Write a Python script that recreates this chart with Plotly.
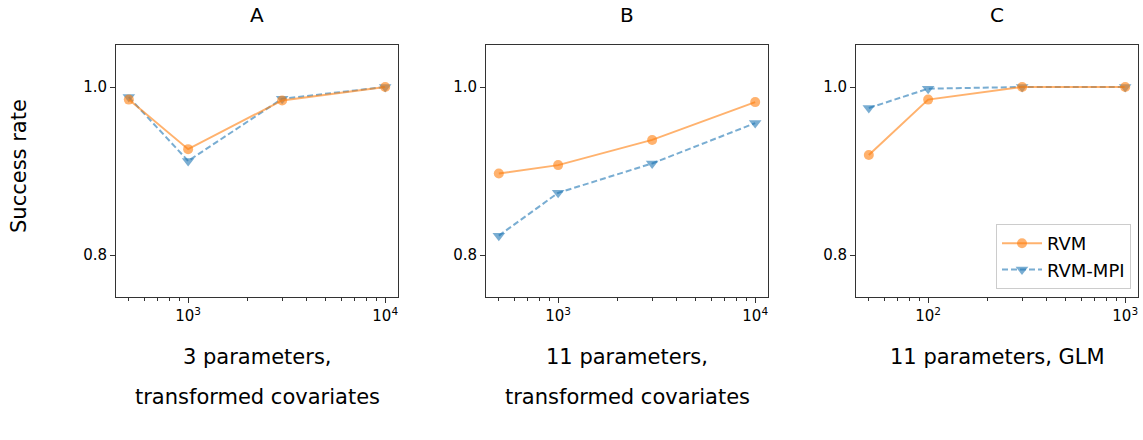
import numpy as np
import plotly.graph_objects as go

# ---- data ----
panel_titles = ["A", "B", "C"]
panel_captions = [["3 parameters,", "transformed covariates"],
                  ["11 parameters,", "transformed covariates"],
                  ["11 parameters, GLM"]]

x_A = [500, 1000, 3000, 10000]
rvm_A = [0.985, 0.926, 0.984, 1.000]
mpi_A = [0.988, 0.912, 0.986, 1.000]

x_B = [500, 1000, 3000, 10000]
rvm_B = [0.897, 0.907, 0.937, 0.982]
mpi_B = [0.823, 0.874, 0.909, 0.957]

x_C = [50, 100, 300, 1000]
rvm_C = [0.919, 0.985, 1.000, 1.000]
mpi_C = [0.975, 0.998, 1.000, 1.000]

xtick_vals = [[1000, 10000], [1000, 10000], [100, 1000]]
xtick_text = [["10<sup>3</sup>", "10<sup>4</sup>"], ["10<sup>3</sup>", "10<sup>4</sup>"],
              ["10<sup>2</sup>", "10<sup>3</sup>"]]
ytick_vals = [0.8, 1.0]
ytick_text = ["0.8", "1.0"]
y_label = "Success rate"
series_names = ["RVM", "RVM-MPI"]

# ---- figure ----
W, H = 1143, 440
ORANGE = "rgba(255,127,14,0.6)"
BLUE = "rgba(31,119,180,0.6)"
FONT = "DejaVu Sans"

panels = [(x_A, rvm_A, mpi_A), (x_B, rvm_B, mpi_B), (x_C, rvm_C, mpi_C)]
x_left = [116, 486, 856]
pw = 282
y_top, y_bot = 45, 297

fig = go.Figure()
layout = dict(width=W, height=H, margin=dict(l=0, r=0, t=0, b=0),
              plot_bgcolor="white", paper_bgcolor="white",
              font=dict(family=FONT, color="black"))
annotations = []

for i, (xs, rvm, mpi) in enumerate(panels):
    xa = "x" if i == 0 else f"x{i+1}"
    ya = "y" if i == 0 else f"y{i+1}"
    show = (i == 2)
    fig.add_trace(go.Scatter(x=xs, y=mpi, mode="lines+markers", name=series_names[1],
                             xaxis=xa, yaxis=ya, showlegend=show, legendrank=2,
                             line=dict(color=BLUE, width=2, dash="6px,3px"),
                             marker=dict(symbol="triangle-down", size=11, color=BLUE)))
    fig.add_trace(go.Scatter(x=xs, y=rvm, mode="lines+markers", name=series_names[0],
                             xaxis=xa, yaxis=ya, showlegend=show, legendrank=1,
                             line=dict(color=ORANGE, width=2),
                             marker=dict(symbol="circle", size=10, color=ORANGE)))
    lo, hi = np.log10(min(xs)), np.log10(max(xs))
    pad = 0.05 * (hi - lo)
    dec_lo = int(np.floor(lo - pad))
    dec_hi = int(np.ceil(hi + pad))
    minors = [m * 10 ** d for d in range(dec_lo, dec_hi + 1) for m in range(2, 10)
              if lo - pad <= np.log10(m * 10 ** d) <= hi + pad]
    d0 = x_left[i] / W
    d1 = (x_left[i] + pw) / W
    kx = "xaxis" if i == 0 else f"xaxis{i+1}"
    ky = "yaxis" if i == 0 else f"yaxis{i+1}"
    layout[kx] = dict(type="log", domain=[d0, d1], anchor=ya,
                      range=[lo - pad, hi + pad],
                      tickmode="array", tickvals=xtick_vals[i], ticktext=xtick_text[i],
                      ticks="outside", ticklen=5, tickwidth=1, tickcolor="#333",
                      showline=True, linecolor="#333", linewidth=1, mirror=True,
                      showgrid=False, zeroline=False,
                      tickfont=dict(size=15, family=FONT),
                      minor=dict(tickmode="array", tickvals=minors, ticks="outside",
                                 ticklen=3, tickwidth=1, tickcolor="#333", showgrid=False))
    layout[ky] = dict(domain=[1 - y_bot / H, 1 - y_top / H], anchor=xa,
                      range=[0.75, 1.05],
                      tickmode="array", tickvals=ytick_vals, ticktext=ytick_text,
                      ticks="outside", ticklen=5, tickwidth=1, tickcolor="#333",
                      showline=True, linecolor="#333", linewidth=1, mirror=True,
                      showgrid=False, zeroline=False,
                      tickfont=dict(size=15, family=FONT))
    cx = (x_left[i] + pw / 2) / W
    annotations.append(dict(text=panel_titles[i], x=cx, y=1 - 15 / H, xref="paper", yref="paper",
                            showarrow=False, font=dict(size=20, family=FONT),
                            xanchor="center", yanchor="middle"))
    caps = panel_captions[i]
    for j, line in enumerate(caps):
        annotations.append(dict(text=line, x=cx, y=1 - (357 + 40 * j) / H,
                                xref="paper", yref="paper", showarrow=False,
                                font=dict(size=21, family=FONT),
                                xanchor="center", yanchor="middle"))

annotations.append(dict(text=y_label, x=19 / W, y=1 - 166 / H, xref="paper", yref="paper",
                        showarrow=False, textangle=-90, font=dict(size=21, family=FONT),
                        xanchor="center", yanchor="middle"))

layout["annotations"] = annotations
layout["legend"] = dict(x=1131 / W, y=1 - 289 / H, xanchor="right", yanchor="bottom",
                        bgcolor="white", bordercolor="#ccc", borderwidth=1,
                        itemwidth=40, font=dict(size=18, family=FONT))
fig.update_layout(**layout)
fig.write_html("out.html")
